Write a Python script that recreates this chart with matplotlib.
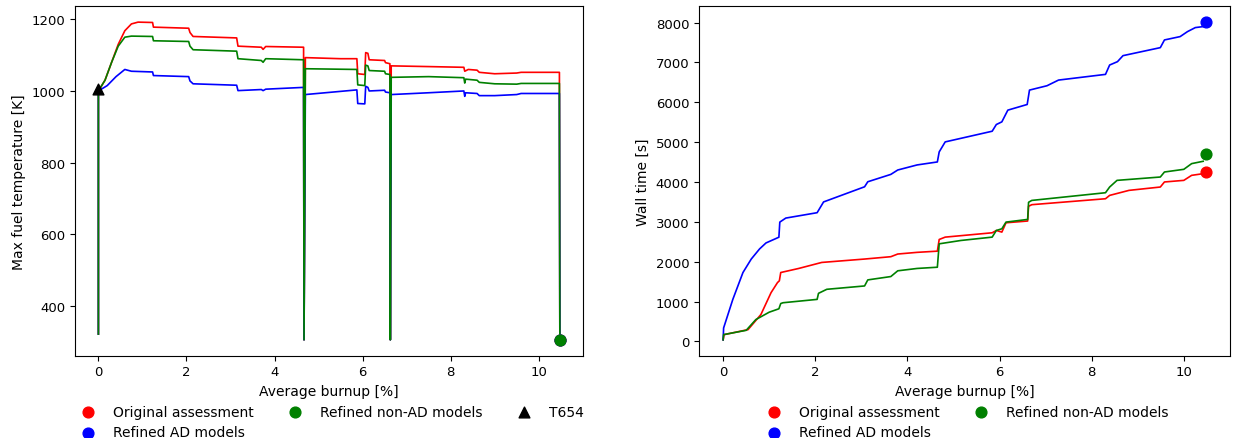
import numpy as np
import matplotlib
matplotlib.use("Agg")
import matplotlib.pyplot as plt

# ---- max fuel temperature vs burnup ----
bu_orig = [0, 0, 0.15, 0.3, 0.45, 0.6, 0.75, 0.9, 1.23, 1.25, 2.05, 2.08, 2.15, 3.14, 3.17,
           3.7, 3.74, 3.8, 4.66, 4.67, 4.7, 5.5, 5.87, 5.89, 6.05, 6.07, 6.12, 6.15, 6.5,
           6.52, 6.62, 6.63, 6.65, 7.5, 8.3, 8.32, 8.4, 8.6, 8.65, 9.0, 9.5, 9.6, 10.47, 10.48]
temp_orig = [322, 1000, 1030, 1080, 1130, 1168, 1187, 1192, 1191, 1178, 1175, 1163, 1152, 1148, 1125,
             1122, 1116, 1124, 1122, 306, 1093, 1090, 1090, 1048, 1046, 1107, 1105, 1087, 1085,
             1079, 1076, 306, 1070, 1068, 1066, 1055, 1060, 1058, 1052, 1048, 1050, 1052, 1052, 306]

bu_nonad = [0, 0, 0.15, 0.3, 0.45, 0.6, 0.75, 1.23, 1.25, 2.05, 2.08, 2.15, 3.14, 3.17,
            3.7, 3.74, 3.8, 4.66, 4.67, 4.7, 5.87, 5.89, 6.05, 6.07, 6.12, 6.15, 6.5,
            6.52, 6.62, 6.63, 6.65, 7.5, 8.3, 8.32, 8.34, 8.6, 8.65, 9.0, 9.5, 9.6, 10.47, 10.48]
temp_nonad = [322, 1000, 1030, 1080, 1125, 1150, 1153, 1152, 1140, 1138, 1125, 1115, 1111, 1090,
              1085, 1080, 1090, 1087, 306, 1062, 1060, 1017, 1015, 1072, 1070, 1057, 1055,
              1048, 1046, 306, 1038, 1040, 1037, 1022, 1033, 1030, 1024, 1020, 1019, 1021, 1021, 306]

bu_ad = [0, 0, 0.2, 0.4, 0.6, 0.75, 1.23, 1.25, 2.05, 2.08, 2.15, 3.14, 3.17,
         3.7, 3.74, 3.8, 4.66, 4.67, 4.7, 5.87, 5.89, 6.05, 6.07, 6.12, 6.15, 6.5,
         6.52, 6.62, 6.63, 6.65, 7.5, 8.3, 8.32, 8.34, 8.6, 8.65, 9.0, 9.5, 9.6, 10.47, 10.48]
temp_ad = [322, 1000, 1015, 1040, 1060, 1055, 1053, 1043, 1040, 1028, 1020, 1016, 1001,
           1004, 1001, 1005, 1010, 306, 990, 1003, 965, 964, 1013, 1010, 1000, 1002,
           997, 995, 306, 990, 995, 1000, 985, 995, 993, 987, 987, 990, 993, 993, 306]

t654_bu = [0]
t654_temp = [1005]

# ---- wall time vs burnup ----
wt_bu_orig = [0, 0.02, 0.54, 0.82, 1.04, 1.18, 1.22, 1.25, 1.64, 2.14, 3.07, 3.64, 3.79, 4.21,
              4.65, 4.69, 4.82, 5.84, 5.93, 6.05, 6.14, 6.61, 6.63, 6.7, 8.30, 8.39, 8.81,
              9.49, 9.58, 10.0, 10.17, 10.42]
wt_orig = [40, 170, 295, 675, 1223, 1476, 1520, 1728, 1830, 1981, 2066, 2125, 2192, 2234,
           2264, 2557, 2616, 2725, 2783, 2742, 2976, 3020, 3390, 3430, 3579, 3663, 3789,
           3873, 4000, 4040, 4166, 4208]

wt_bu_nonad = [0, 0.01, 0.5, 0.71, 1.0, 1.21, 1.25, 1.3, 2.04, 2.07, 2.25, 3.07, 3.14, 3.64,
               3.79, 4.21, 4.65, 4.69, 5.16, 5.84, 5.93, 6.05, 6.14, 6.61, 6.63, 6.7, 8.30,
               8.39, 8.55, 9.49, 9.58, 10.0, 10.17, 10.42]
wt_nonad = [40, 170, 278, 548, 733, 818, 950, 970, 1054, 1206, 1307, 1391, 1543, 1627,
            1771, 1830, 1861, 2448, 2532, 2616, 2783, 2825, 2993, 3060, 3490, 3537, 3730,
            3873, 4040, 4124, 4250, 4317, 4460, 4519]

wt_bu_ad = [0, 0.01, 0.21, 0.43, 0.61, 0.79, 0.93, 1.21, 1.23, 1.36, 2.04, 2.18, 3.07, 3.14,
            3.64, 3.79, 4.21, 4.65, 4.69, 4.82, 5.84, 5.93, 6.05, 6.18, 6.60, 6.65, 7.03,
            7.28, 8.30, 8.39, 8.56, 8.68, 9.49, 9.58, 9.92, 10.08, 10.25, 10.42]
wt_ad = [40, 337, 1054, 1728, 2066, 2319, 2470, 2614, 2993, 3094, 3229, 3499, 3879, 4005,
         4190, 4300, 4427, 4502, 4754, 5005, 5273, 5441, 5508, 5802, 5944, 6305, 6414,
         6556, 6699, 6934, 7018, 7169, 7370, 7563, 7647, 7772, 7873, 7898]

# final wall time markers (orig, non-AD, AD)
end_bu = 10.48
end_wt = [4250, 4712, 8010]

labels = ["Original assessment", "Refined non-AD models", "Refined AD models"]

plt.rcParams['font.size'] = 10
fig = plt.figure(figsize=(12.35, 4.39), dpi=100)
ax1 = fig.add_axes([0.061, 0.1875, 0.411, 0.796])
ax2 = fig.add_axes([0.566, 0.1875, 0.430, 0.796])

# left panel
ax1.plot(bu_orig, temp_orig, color='red', lw=1.2)
ax1.plot(bu_ad, temp_ad, color='blue', lw=1.2)
ax1.plot(bu_nonad, temp_nonad, color='green', lw=1.2)
s1 = ax1.scatter([bu_orig[-1]], [temp_orig[-1]], color='red', s=60, zorder=3)
s3 = ax1.scatter([bu_ad[-1]], [temp_ad[-1]], color='blue', s=60, zorder=3)
s2 = ax1.scatter([bu_nonad[-1]], [temp_nonad[-1]], color='green', s=60, zorder=4)
s4 = ax1.scatter(t654_bu, t654_temp, color='black', marker='^', s=60, zorder=5)
ax1.set_xlabel('Average burnup [%]')
ax1.set_ylabel('Max fuel temperature [K]')
ax1.tick_params(labelsize=9.5)
ax1.legend([s1, s3, s2, s4], [labels[0], labels[2], labels[1], 'T654'],
           ncol=3, frameon=False, loc='upper center', bbox_to_anchor=(0.5, -0.125),
           borderaxespad=0, fontsize=10, labelspacing=0.45)

# right panel
ax2.plot(wt_bu_orig, wt_orig, color='red', lw=1.2)
ax2.plot(wt_bu_ad, wt_ad, color='blue', lw=1.2)
ax2.plot(wt_bu_nonad, wt_nonad, color='green', lw=1.2)
r1 = ax2.scatter([end_bu], [end_wt[0]], color='red', s=60, zorder=3)
r2 = ax2.scatter([end_bu], [end_wt[1]], color='green', s=60, zorder=3)
r3 = ax2.scatter([end_bu], [end_wt[2]], color='blue', s=60, zorder=3)
ax2.set_xlabel('Average burnup [%]')
ax2.set_ylabel('Wall time [s]')
ax2.tick_params(labelsize=9.5)
ax2.legend([r1, r3, r2], [labels[0], labels[2], labels[1]],
           ncol=2, frameon=False, loc='upper center', bbox_to_anchor=(0.5, -0.125),
           borderaxespad=0, fontsize=10, labelspacing=0.45)

fig.savefig('out.png', dpi=100)
